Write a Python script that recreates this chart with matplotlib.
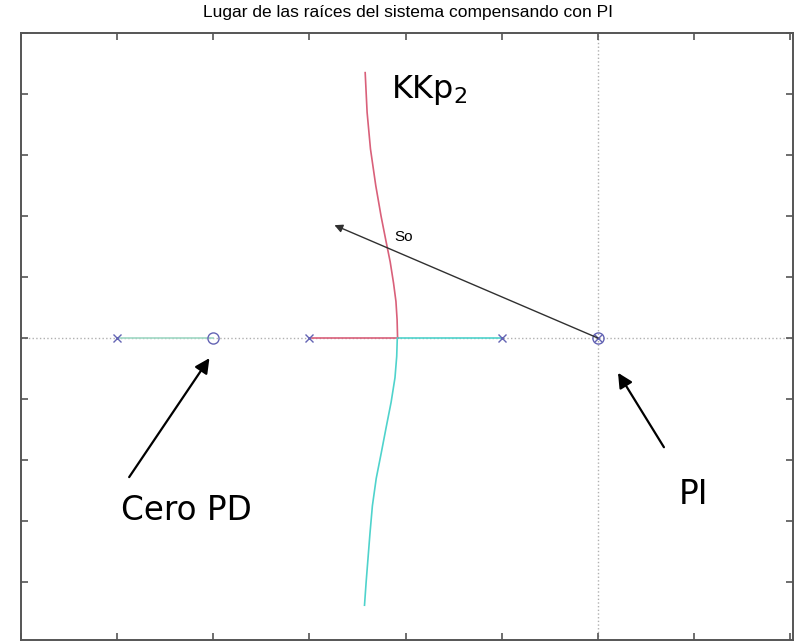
import matplotlib
matplotlib.use("Agg")
import matplotlib.pyplot as plt
import numpy as np

# ── Data ───────────────────────────────────────────────────────────────────
poles_re = [-5.0, -3.0, -1.0, 0.0]
zeros_re = [-4.0, 0.0]

# real-axis branches
seg_a_x = [-5.0, -4.0]          # pole -5 -> zero -4 (cyan)
seg_b_x = [-3.0, -2.083]        # pole -3 -> breakaway (red)
seg_c_x = [-2.083, -1.0]        # pole -1 -> breakaway (cyan)

# complex branch going up (red)
up_x = [-2.083, -2.088, -2.100, -2.125, -2.160, -2.205, -2.255, -2.31, -2.365, -2.40, -2.42]
up_y = [0.0, 0.30, 0.60, 0.90, 1.25, 1.60, 2.00, 2.50, 3.10, 3.70, 4.35]

# complex branch going down (cyan)
dn_x = [-2.086, -2.092, -2.110, -2.150, -2.200, -2.253, -2.305, -2.345, -2.370, -2.390, -2.410, -2.427]
dn_y = [0.0, -0.30, -0.65, -1.05, -1.45, -1.885, -2.30, -2.75, -3.20, -3.60, -4.00, -4.38]

# annotations
so_tip = (-2.74, 1.85)
so_text = (-2.02, 1.66)
pd_tail, pd_tip = (-4.875, -2.28), (-4.04, -0.33)
pi_tail, pi_tip = (0.6875, -1.79), (0.21, -0.57)

RED = "#d9607a"
CYAN = "#4fd3cc"
MARK = "#6464b4"

fig = plt.figure(figsize=(7.96, 6.41), dpi=100)
ax = fig.add_axes([21 / 796, 1 / 641, (793 - 21) / 796, (640 - 33) / 641])

ax.set_xlim(-6.0, 2.03)
ax.set_ylim(-4.95, 5.0)

# dotted axis lines
ax.axhline(0, color="#b0b0b0", ls=":", lw=1.0, zorder=1)
ax.axvline(0, color="#b0b0b0", ls=":", lw=1.0, zorder=1)

# locus branches
ax.plot(seg_a_x, [0, 0], color="#9fd8c4", lw=1.2, zorder=2)
ax.plot(seg_b_x, [0, 0], color=RED, lw=1.2, zorder=2)
ax.plot(seg_c_x, [0, 0], color=CYAN, lw=1.2, zorder=2)
ax.plot(up_x, up_y, color=RED, lw=1.2, zorder=2)
ax.plot(dn_x, dn_y, color=CYAN, lw=1.2, zorder=2)

# poles and zeros
ax.plot(poles_re, [0] * len(poles_re), ls="none", marker="x", ms=6,
        mew=1.0, color=MARK, zorder=3)
ax.plot(zeros_re, [0] * len(zeros_re), ls="none", marker="o", ms=8,
        mew=1.0, mfc="none", mec=MARK, zorder=3)

# arrows and labels
ax.annotate("", xy=so_tip, xytext=(0, 0),
            arrowprops=dict(arrowstyle="-|>", color="#303030", lw=1.0,
                            mutation_scale=12, shrinkA=0, shrinkB=0), zorder=4)
ax.text(so_text[0], so_text[1], "So", fontsize=11, family="Liberation Sans",
        ha="center", va="center")
ax.annotate("", xy=pd_tip, xytext=pd_tail,
            arrowprops=dict(arrowstyle="-|>", color="black", lw=1.6,
                            mutation_scale=22, shrinkA=0, shrinkB=0))
ax.annotate("", xy=pi_tip, xytext=pi_tail,
            arrowprops=dict(arrowstyle="-|>", color="black", lw=1.6,
                            mutation_scale=22, shrinkA=0, shrinkB=0))
ax.text(-2.15, 4.07, "KKp$_2$", fontsize=23, ha="left", va="center")
ax.text(-4.28, -2.82, "Cero PD", fontsize=23.5, ha="center", va="center")
ax.text(1.0, -2.57, "PI", fontsize=23.5, ha="center", va="center")

# MATLAB-like frame: inward ticks on all sides, no labels (cropped off)
ax.set_xticks(np.arange(-6, 3, 1))
ax.set_yticks(np.arange(-4, 6, 1))
ax.tick_params(direction="in", length=5, width=1.2, color="#555555",
               top=True, right=True, labelbottom=False, labelleft=False)
for s in ax.spines.values():
    s.set_edgecolor("#555555")
    s.set_linewidth(1.4)

fig.text(408 / 796, 1 - 13 / 641,
         "Lugar de las raíces del sistema compensando con PI",
         fontsize=12.5, family="Liberation Sans", ha="center", va="center")

fig.savefig("out.png", dpi=100)
